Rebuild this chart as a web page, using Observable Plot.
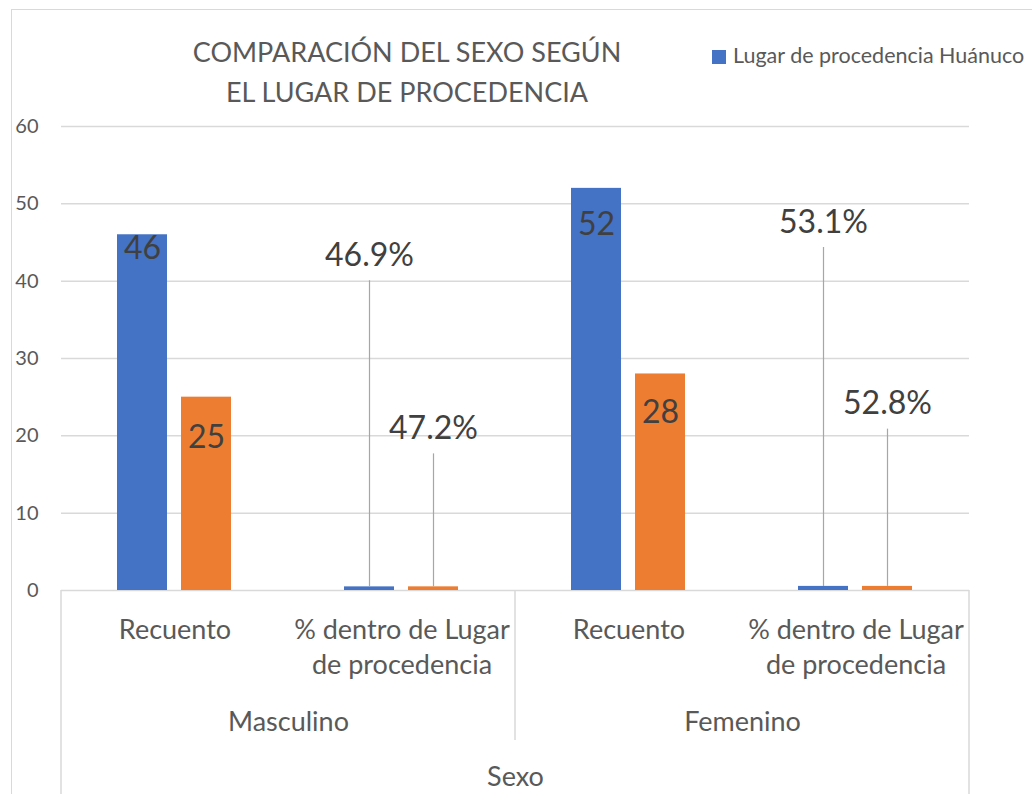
<!DOCTYPE html>
<html><head><meta charset="utf-8">
<script src="https://cdn.jsdelivr.net/npm/d3@7"></script>
<script src="https://cdn.jsdelivr.net/npm/@observablehq/plot@0.6"></script>
<style>
html,body{margin:0;padding:0;background:#fff;overflow:hidden;}
#wrap{position:relative;width:1032px;height:794px;overflow:hidden;font-family:Lato,"Open Sans",sans-serif;background:#fff;}
#border{position:absolute;left:11px;top:9px;width:1200px;height:1000px;border:1px solid #d9d9d9;box-sizing:border-box;}
#chart{position:absolute;left:0;top:0;}
#title{position:absolute;left:0;width:814px;top:32px;text-align:center;font-size:27px;line-height:40px;color:#595959;}
#legend{position:absolute;left:712px;top:41px;white-space:nowrap;font-size:21.5px;color:#595959;line-height:28px;}
#legend span.sw{display:inline-block;width:14px;height:14px;margin-right:7px;vertical-align:-1px;}
</style>
</head><body>
<div id="wrap">
  <div id="border"></div>
  <div id="chart"></div>
  <div id="title">COMPARACIÓN DEL SEXO SEGÚN<br>EL LUGAR DE PROCEDENCIA</div>
  <div id="legend"></div>
</div>
<script>
// ---- data ----
const groups = ["Masculino", "Femenino"];
const measures = ["Recuento", "% dentro de Lugar\nde procedencia"];
const series = ["Lugar de procedencia Huánuco", "Lugar de procedencia Otro"];
const seriesColors = ["#4472C4", "#ED7D31"];
// values in order: Masculino-Recuento, Masculino-%, Femenino-Recuento, Femenino-%
const huanuco = [46, 0.469, 52, 0.531];
const otro = [25, 0.472, 28, 0.528];
// positions of the (manually placed) data labels, in axis units
const labelHuanuco = [44.2, 43.3, 47.3, 47.6];
const labelOtro = [19.8, 20.9, 23.0, 24.1];
const yTicks = [0, 10, 20, 30, 40, 50, 60];
const axisTitle = "Sexo";
const visibleLegendItems = 1; // only the first legend entry fits in the picture

// ---- build tables ----
const subcats = [];
groups.forEach((g, gi) => measures.forEach((m, mi) => subcats.push({key: g + "|" + mi, g, m, mi})));
const rows = [];
subcats.forEach((s, i) => {
  [huanuco, otro].forEach((arr, si) => {
    const v = arr[i];
    rows.push({
      key: s.key, mi: s.mi, series: series[si], value: v,
      labelY: (si === 0 ? labelHuanuco : labelOtro)[i],
      label: s.mi === 0 ? String(v) : (v * 100).toFixed(1) + "%"
    });
  });
});

const textColor = "#595959";
const plot = Plot.plot({
  width: 1032,
  height: 794,
  marginLeft: 61,
  marginRight: 63,
  marginTop: 126,
  marginBottom: 204,
  style: {fontFamily: "Lato, 'Open Sans', sans-serif", fontSize: "20px", color: textColor, background: "transparent"},
  fx: {domain: subcats.map(d => d.key), padding: 0, axis: null},
  x: {domain: series, paddingInner: 0.215, paddingOuter: 0.854, axis: null},
  y: {domain: [0, 60], label: null},
  color: {domain: series, range: seriesColors},
  marks: [
    Plot.gridY(yTicks, {stroke: "#d9d9d9", strokeOpacity: 1, strokeWidth: 1.5}),
    Plot.axisY(yTicks, {tickSize: 0, tickPadding: 23, fontSize: 20, fill: textColor, label: null}),
    Plot.barY(rows, {fx: "key", x: "series", y: "value", fill: "series"}),
    Plot.ruleX(rows.filter(d => d.mi === 1), {fx: "key", x: "series", y1: "labelY", y2: "value", stroke: "#a6a6a6", strokeWidth: 1.2, insetTop: 25}),
    Plot.text(rows, {fx: "key", x: "series", y: "labelY", text: "label", fontSize: 32, fill: "#404040", lineAnchor: "middle"}),
    Plot.text(subcats, {fx: "key", text: "m", frameAnchor: "bottom", lineAnchor: "top", dy: 23.5, fontSize: 27, lineHeight: 1.3, fill: textColor}),
    Plot.text(subcats.filter(d => d.mi === 0), {fx: "key", text: "g", frameAnchor: "bottom-right", textAnchor: "middle", lineAnchor: "middle", dy: 132, fontSize: 27, fill: textColor}),
    Plot.text([{key: subcats[1].key, t: axisTitle}], {fx: "key", text: "t", frameAnchor: "bottom-right", textAnchor: "middle", lineAnchor: "middle", dy: 187, fontSize: 27, fill: textColor})
  ]
});

// multi-level category axis dividers, placed from the plot's own scales
const fxS = plot.scale("fx");
const yS = plot.scale("y");
const y0 = yS.apply(0);
const bw = fxS.bandwidth;
const dividers = [
  {x: fxS.apply(subcats[0].key), y2: 794},
  {x: fxS.apply(subcats[1].key) + bw, y2: 740},
  {x: fxS.apply(subcats[3].key) + bw, y2: 794}
];
d3.select(plot).append("g")
  .selectAll("line").data(dividers).join("line")
  .attr("x1", d => d.x).attr("x2", d => d.x)
  .attr("y1", y0).attr("y2", d => d.y2)
  .attr("stroke", "#d9d9d9").attr("stroke-width", 1.5);

document.getElementById("chart").appendChild(plot);

// legend
const leg = d3.select("#legend");
series.slice(0, visibleLegendItems).forEach((s, i) => {
  const it = leg.append("span").attr("class", "item");
  it.append("span").attr("class", "sw").style("background", seriesColors[i]);
  it.append("span").text(s);
});
</script>
</body></html>
